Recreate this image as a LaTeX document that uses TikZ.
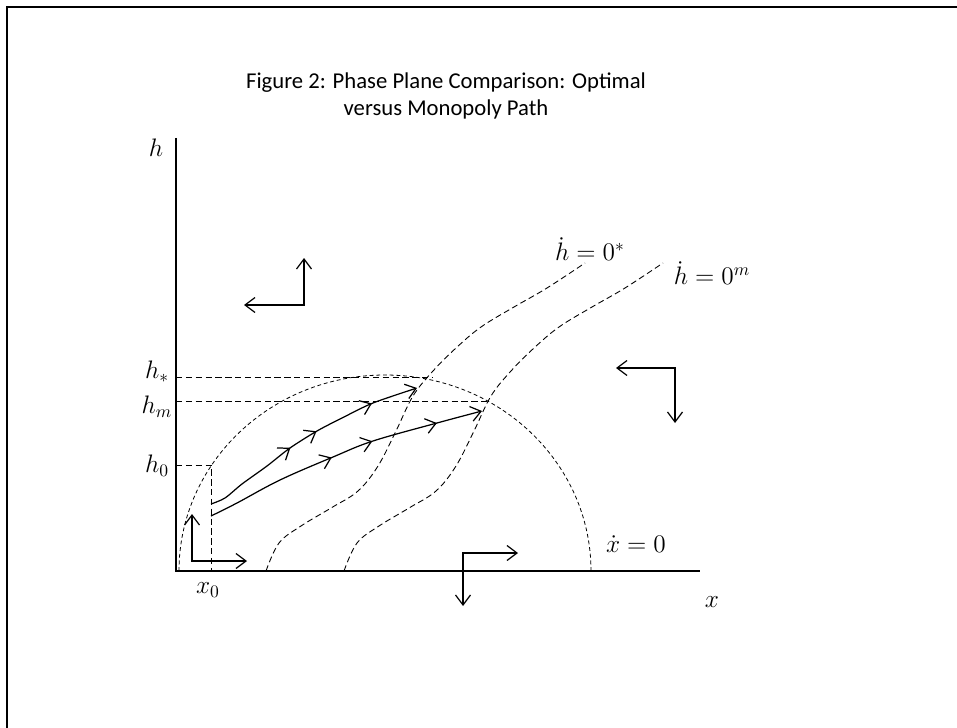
\documentclass[tikz,border=0pt]{standalone}
\usepackage[no-math]{fontspec}
\newfontfamily\captionfont{Carlito}
\usetikzlibrary{arrows.meta,decorations.markings}

\begin{document}
\begin{tikzpicture}[>={Straight Barb[length=2mm,width=3mm]},
  axis/.style={line width=0.6pt},
  guide/.style={line width=0.45pt,dash pattern=on 3.6pt off 2pt},
  nullcline/.style={line width=0.5pt,dash pattern=on 3.4pt off 2pt},
  locus/.style={line width=0.45pt,dash pattern=on 2.2pt off 1.6pt},
  traj/.style={line width=0.7pt,->},
  quad/.style={line width=0.7pt,<->},
  lbl/.style={font=\fontsize{14}{16}\selectfont,inner sep=0pt},
  arrowat/.style={postaction={decorate,decoration={markings,mark=at position #1 with {\arrow{>}}}}}]
  \useasboundingbox (-3.52,-3.12) rectangle (15.62,11.42);
  \draw[line width=1.3pt] (-3.38,-3.4) -- (-3.38,11.28) -- (15.8,11.28);

  \node[font=\captionfont\fontsize{12.9}{15}\selectfont,align=center] (title) at (5.4,9.5)
    {Figure 2: Phase Plane Comparison: Optimal\\versus Monopoly Path};

  % axes
  \draw[axis] (0,8.66) -- (0,0) -- (10.48,0);
  \node[lbl] (hlab) at (-0.4,8.46) {$h$};
  \node[lbl] (xlab) at (10.72,-0.62) {$x$};

  % levels
  \draw[guide] (0,3.88) -- (5.12,3.88);
  \draw[guide] (0,3.4) -- (6.28,3.4);
  \draw[guide] (0,2.12) -- (0.7,2.12) -- (0.7,0);
  \node[lbl] (hstar) at (-0.38,3.98) {$h_*$};
  \node[lbl] (hm) at (-0.38,3.28) {$h_m$};
  \node[lbl] (h0) at (-0.38,2.1) {$h_0$};
  \node[lbl] (x0) at (0.64,-0.38) {$x_0$};

  % xdot = 0
  \draw[locus] (0.06,0) arc[start angle=180,end angle=0,x radius=4.12,y radius=3.92];
  \node[lbl] (xdot) at (9.2,0.54) {$\dot{x}=0$};

  % hdot = 0, optimal and monopoly
  \foreach \s in {0,1.56}
    \draw[nullcline,shift={(\s,0)}] plot[smooth,tension=0.6] coordinates {(1.8,0) (2.06,0.56)
      (2.5,0.9) (3.1,1.26) (3.64,1.6) (4.04,2.1) (4.4,2.8) (4.74,3.5) (5.14,4.0) (5.6,4.46)
      (6.1,4.88) (6.76,5.28) (7.42,5.66) (8.18,6.16)};
  \node[lbl] (hstarlab) at (8.28,6.44) {$\dot{h}=0^{*}$};
  \node[lbl] (hmlab) at (10.72,5.96) {$\dot{h}=0^{m}$};

  % paths
  \draw[traj,arrowat=0.41,arrowat=0.54,arrowat=0.8] plot[smooth,tension=0.5] coordinates {(0.7,1.34)
    (0.98,1.46) (1.32,1.74) (1.82,2.1) (2.28,2.46) (2.82,2.8) (3.34,3.07) (3.94,3.36) (4.82,3.66)};
  \draw[traj,arrowat=0.46,arrowat=0.61,arrowat=0.84] plot[smooth,tension=0.6] coordinates {(0.7,1.1)
    (1.22,1.36) (2.08,1.82) (3.14,2.28) (3.94,2.6) (5.22,2.96) (6.12,3.2)};

  % directions
  \foreach \ax/\ay/\cx/\cy/\bx/\by in {1.36/5.32/2.56/5.32/2.56/6.26,8.8/4.06/9.98/4.06/9.98/2.96,
      6.84/0.36/5.74/0.36/5.74/-0.7,1.42/0.2/0.32/0.2/0.32/1.14}
    \draw[quad] (\ax,\ay) -- (\cx,\cy) -- (\bx,\by);
\end{tikzpicture}
\end{document}
